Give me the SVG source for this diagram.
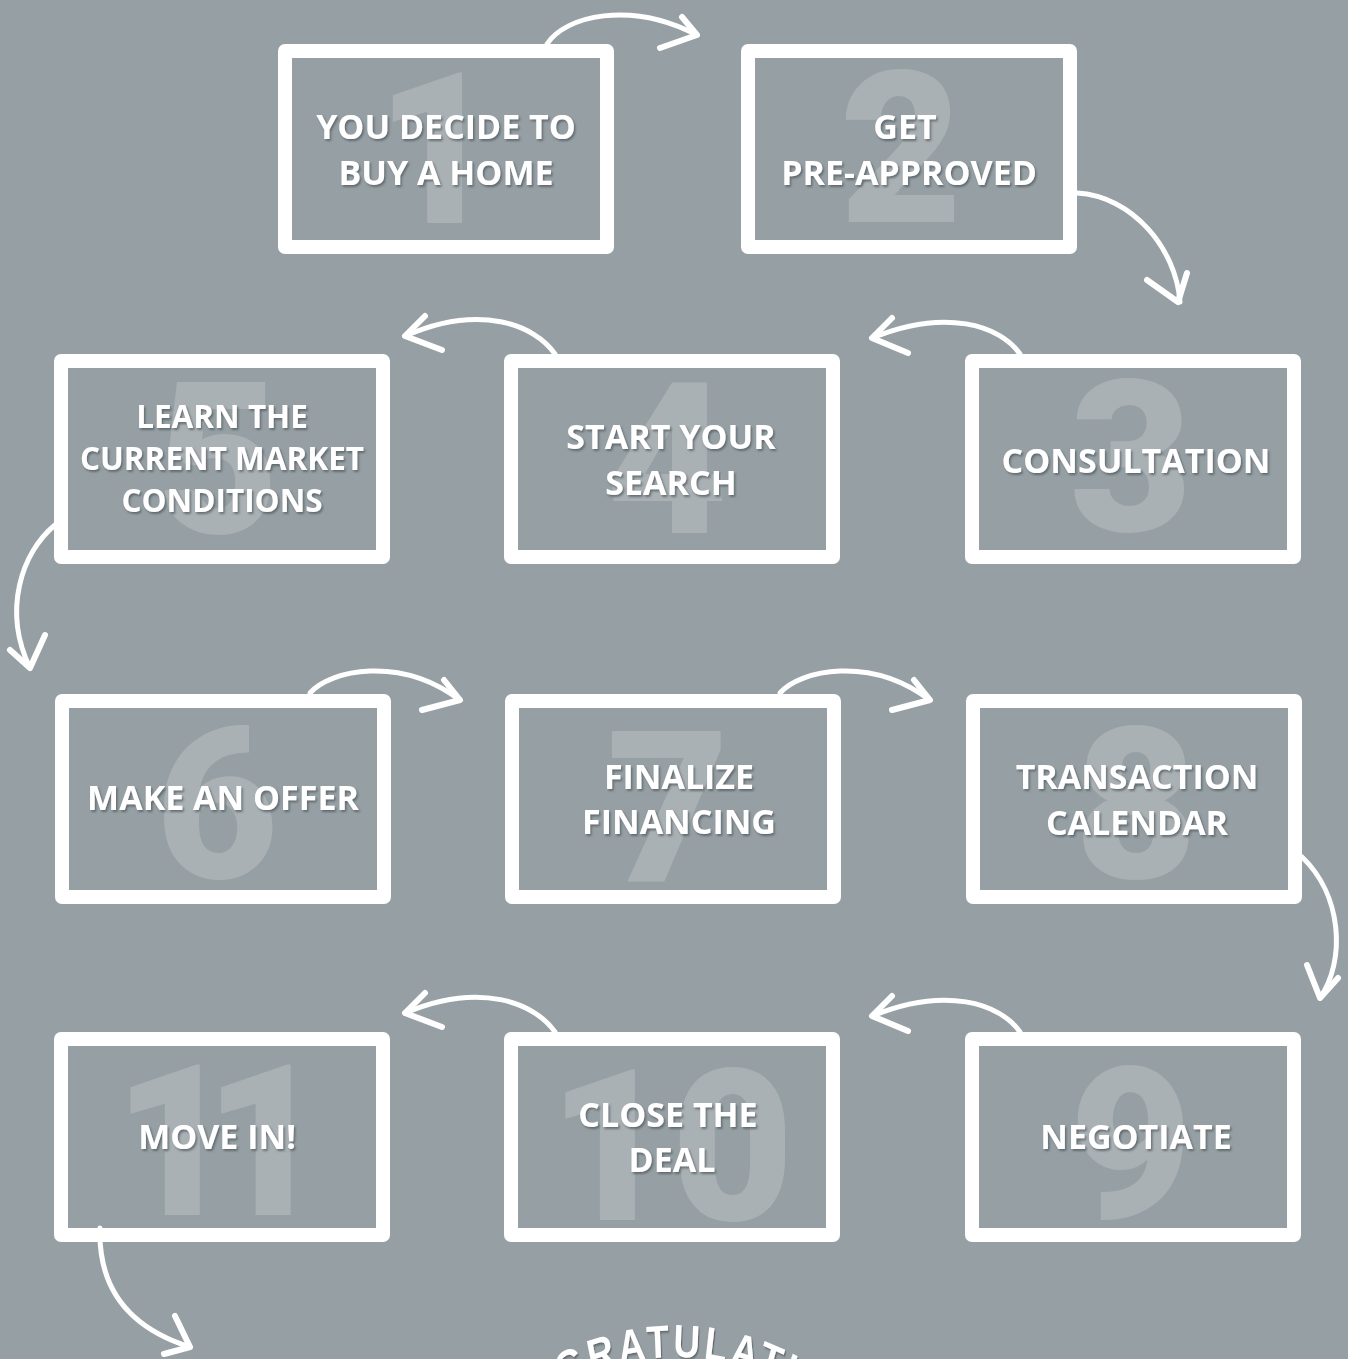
<svg xmlns="http://www.w3.org/2000/svg" width="1348" height="1359" viewBox="0 0 1348 1359">
<defs>
<filter id="sh" x="-10%" y="-30%" width="120%" height="160%">
<feDropShadow dx="1.5" dy="2" stdDeviation="0.8" flood-color="#4f5a5e" flood-opacity="0.75"/>
</filter>
<path id="arc" d="M384.75,1590 A291.25,233 0 0 1 967.25,1590"/>
</defs>
<style>
.box{fill:none;stroke:#ffffff;stroke-width:14;stroke-linejoin:round}
.num{font-family:Roboto,"Liberation Sans",sans-serif;font-weight:900;font-size:212px;fill:#aab1b4;text-anchor:middle}
.lbl{font-family:"Open Sans","Liberation Sans",sans-serif;font-weight:700;font-size:34px;fill:#ffffff;text-anchor:middle;filter:url(#sh)}
.sm{font-size:31.5px}
.cur{fill:none;stroke:#ffffff;stroke-width:5;stroke-linecap:round}
.head{fill:none;stroke:#ffffff;stroke-width:6;stroke-linecap:round;stroke-linejoin:round}
.cong{font-family:"Liberation Sans",sans-serif;font-weight:700;font-size:46px;letter-spacing:4.5px;fill:#ffffff;filter:url(#sh)}
</style>
<rect width="1348" height="1359" fill="#96a0a4"/>

<g id="connectors">
<path class="cur" d="M547,44 C565,16 630,0 697,35"/>
<path class="head" d="M682,17 L697,35 L660,48"/>
<path class="cur" d="M1077,193 C1132,196 1176,248 1180,302"/>
<path class="head" d="M1147,280 L1178,302 L1187,273"/>
<path class="cur" d="M1020,354 C1000,325 945,308 872,338"/>
<path class="head" d="M892,318 L872,338 L908,353"/>
<path class="cur" d="M555,354 C535,325 480,303 405,336"/>
<path class="head" d="M425,316 L405,336 L442,350"/>
<path class="cur" d="M55,525 C22,552 2,610 30,668"/>
<path class="head" d="M10,650 L30,668 L45,635"/>
<path class="cur" d="M310,693 C330,670 400,655 460,700"/>
<path class="head" d="M444,680 L460,700 L422,710"/>
<path class="cur" d="M780,693 C800,670 870,655 930,700"/>
<path class="head" d="M914,680 L930,700 L892,710"/>
<path class="cur" d="M1302,857 C1342,895 1346,960 1320,998"/>
<path class="head" d="M1307,965 L1320,998 L1338,978"/>
<path class="cur" d="M1020,1032 C1000,1003 945,986 872,1016"/>
<path class="head" d="M892,996 L872,1016 L908,1031"/>
<path class="cur" d="M555,1032 C535,1003 480,981 405,1013"/>
<path class="head" d="M425,993 L405,1013 L442,1027"/>
<path class="cur" d="M100,1228 C98,1290 130,1328 190,1347"/>
<path class="head" d="M175,1316 L190,1347 L164,1354"/>
</g>

<g id="step1">
<rect class="box" x="285" y="51" width="322" height="196"/>
<text class="num" x="437" y="223">1</text>
<text class="lbl" x="446" y="139">YOU DECIDE TO</text>
<text class="lbl" x="446" y="185">BUY A HOME</text>
</g>
<g id="step2">
<rect class="box" x="748" y="51" width="322" height="196"/>
<text class="num" x="901" y="222">2</text>
<text class="lbl" x="905" y="139">GET</text>
<text class="lbl" x="909" y="185">PRE-APPROVED</text>
</g>
<g id="step3">
<rect class="box" x="972" y="361" width="322" height="196"/>
<text class="num" x="1131" y="531">3</text>
<text class="lbl" x="1136" y="473">CONSULTATION</text>
</g>
<g id="step4">
<rect class="box" x="511" y="361" width="322" height="196"/>
<text class="num" x="667" y="533">4</text>
<text class="lbl" x="671" y="449">START YOUR</text>
<text class="lbl" x="671" y="495">SEARCH</text>
</g>
<g id="step5">
<rect class="box" x="61" y="361" width="322" height="196"/>
<text class="num" x="218" y="533">5</text>
<text class="lbl sm" x="222" y="428">LEARN THE</text>
<text class="lbl sm" x="222" y="470">CURRENT MARKET</text>
<text class="lbl sm" x="222" y="512">CONDITIONS</text>
</g>
<g id="step6">
<rect class="box" x="62" y="701" width="322" height="196"/>
<text class="num" x="217" y="878">6</text>
<text class="lbl" x="223" y="810">MAKE AN OFFER</text>
</g>
<g id="step7">
<rect class="box" x="512" y="701" width="322" height="196"/>
<text class="num" x="668" y="882">7</text>
<text class="lbl" x="679" y="789">FINALIZE</text>
<text class="lbl" x="679" y="834">FINANCING</text>
</g>
<g id="step8">
<rect class="box" x="973" y="701" width="322" height="196"/>
<text class="num" x="1136" y="878">8</text>
<text class="lbl" x="1137" y="789">TRANSACTION</text>
<text class="lbl" x="1137" y="835">CALENDAR</text>
</g>
<g id="step9">
<rect class="box" x="972" y="1039" width="322" height="196"/>
<text class="num" x="1131" y="1218">9</text>
<text class="lbl" x="1136" y="1149">NEGOTIATE</text>
</g>
<g id="step10">
<rect class="box" x="511" y="1039" width="322" height="196"/>
<text class="num" x="671" y="1220">10</text>
<text class="lbl" x="668" y="1127">CLOSE THE</text>
<text class="lbl" x="672" y="1172">DEAL</text>
</g>
<g id="step11">
<rect class="box" x="61" y="1039" width="322" height="196"/>
<text class="num" x="204" y="1215" letter-spacing="-32">11</text>
<text class="lbl" x="217" y="1149">MOVE IN!</text>
</g>
<g id="congrats">
<text class="cong" transform="translate(676,0) scale(0.8,1) translate(-676,0)"><textPath href="#arc" startOffset="50%" text-anchor="middle">CONGRATULATIONS</textPath></text>
</g>
</svg>
